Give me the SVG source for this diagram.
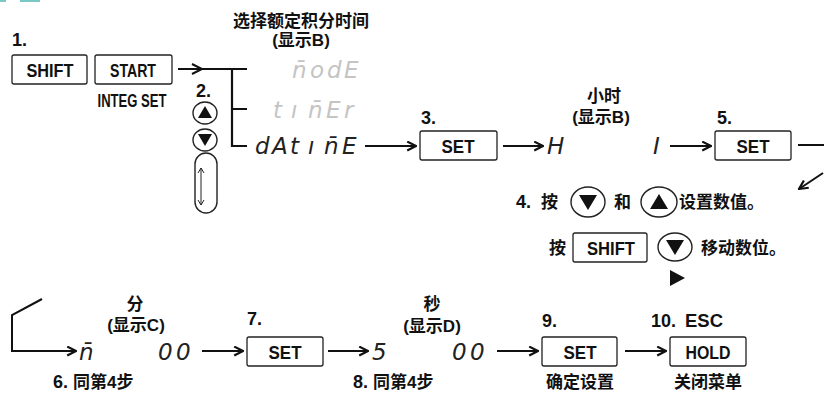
<svg xmlns="http://www.w3.org/2000/svg" width="824" height="394" viewBox="0 0 824 394">
<defs>
<style>
.bg{fill:#fff}
.key{fill:#fff;stroke:#222;stroke-width:1.3}
.kt{font-family:"Liberation Sans",Arial,sans-serif;font-weight:bold;font-size:19px;fill:#111;text-anchor:middle}
.num{font-family:"Liberation Sans",Arial,sans-serif;font-weight:bold;font-size:18px;fill:#111}
.cn{font-family:"Liberation Sans","Noto Sans CJK SC",sans-serif;font-weight:bold;font-size:17px;fill:#111}
.mid{text-anchor:middle}
.seg{font-family:"DejaVu Sans",sans-serif;font-weight:200;font-style:oblique;font-size:23px;fill:#222}
.ghost{fill:#c4c4c4}
.ln{fill:none;stroke:#111;stroke-width:2}
.br{fill:none;stroke:#111;stroke-width:2.2}
.btn{fill:#fff;stroke:#222;stroke-width:1.4}
.tri{fill:#111}
</style>
<marker id="ah" viewBox="0 0 10 10" refX="9" refY="5" markerWidth="11" markerHeight="11" markerUnits="userSpaceOnUse" orient="auto">
<path d="M1,1 L9,5 L1,9" fill="none" stroke="#111" stroke-width="2"/>
</marker>
</defs>
<rect class="bg" x="0" y="0" width="824" height="394"/>
<path d="M0,1 L6,1 M20,1 L40,1" stroke="#7cc8c4" stroke-width="2" fill="none"/>

<g id="title">
<text class="cn mid" x="301" y="27" font-size="18">选择额定积分时间</text>
<text class="cn mid" x="301" y="46">(显示B)</text>
</g>

<g id="step1">
<text class="num" x="12" y="46">1.</text>
<rect class="key" x="12" y="55" width="75" height="29" rx="2"/>
<text class="kt" x="50" y="77" textLength="47" lengthAdjust="spacingAndGlyphs">SHIFT</text>
<rect class="key" x="95" y="55" width="77" height="29" rx="2"/>
<text class="kt" x="133" y="77" textLength="46" lengthAdjust="spacingAndGlyphs">START</text>
<text class="kt" x="132" y="107" font-size="15" textLength="69" lengthAdjust="spacingAndGlyphs">INTEG SET</text>
</g>

<g id="step2">
<text class="num" x="196" y="97">2.</text>
<ellipse class="btn" cx="205" cy="113" rx="12" ry="11"/>
<path class="tri" d="M205,106 L212,118 L198,118 z"/>
<ellipse class="btn" cx="205" cy="140" rx="12" ry="11"/>
<path class="tri" d="M198,134 L212,134 L205,146 z"/>
<rect class="btn" x="195" y="153" width="22" height="60" rx="11"/>
<path d="M201,168 L201,205 M198,173 L201,168 L204,173 M198,200 L201,205 L204,200" fill="none" stroke="#222" stroke-width="1"/>
</g>

<g id="menu">
<text class="seg ghost" y="78" font-size="22"><tspan x="292">n̄</tspan><tspan x="310">o</tspan><tspan x="327">d</tspan><tspan x="344">E</tspan></text>
<text class="seg ghost" y="118" font-size="22"><tspan x="273">t</tspan><tspan x="291">ı</tspan><tspan x="308">n̄</tspan><tspan x="326">E</tspan><tspan x="344">r</tspan></text>
<text class="seg" y="154"><tspan x="255">d</tspan><tspan x="272">A</tspan><tspan x="290">t</tspan><tspan x="308">ı</tspan><tspan x="324">n̄</tspan><tspan x="342">E</tspan></text>
</g>

<g id="step3">
<text class="num" x="421" y="124">3.</text>
<rect class="key" x="420" y="131" width="77" height="29" rx="2"/>
<text class="kt" x="458" y="153" textLength="33" lengthAdjust="spacingAndGlyphs">SET</text>
</g>

<g id="hour">
<text class="cn mid" x="604" y="102">小时</text>
<text class="cn mid" x="601" y="123">(显示B)</text>
<text class="seg" x="547" y="154">H</text>
<text class="seg" x="653" y="154">I</text>
</g>

<g id="step5">
<text class="num" x="717" y="124">5.</text>
<rect class="key" x="715" y="131" width="76" height="29" rx="2"/>
<text class="kt" x="753" y="153" textLength="33" lengthAdjust="spacingAndGlyphs">SET</text>
</g>

<g id="step4">
<text class="num" x="516" y="208">4.</text>
<text class="cn" x="541" y="208">按</text>
<ellipse class="btn" cx="588" cy="202" rx="17" ry="15"/>
<path class="tri" d="M579,195 L597,195 L588,210 z"/>
<text class="cn" x="614" y="208">和</text>
<ellipse class="btn" cx="659" cy="202" rx="18" ry="15"/>
<path class="tri" d="M659,194 L668,209 L650,209 z"/>
<text class="cn" x="679" y="208">设置数值。</text>
<text class="cn" x="549" y="254">按</text>
<rect class="key" x="573" y="233" width="74" height="29" rx="2"/>
<text class="kt" x="611" y="255" textLength="48" lengthAdjust="spacingAndGlyphs">SHIFT</text>
<ellipse class="btn" cx="675" cy="247" rx="17" ry="14"/>
<path class="tri" d="M666,240 L684,240 L675,255 z"/>
<text class="cn" x="701" y="254">移动数位。</text>
<path class="tri" d="M670,270 L685,278 L670,286 z"/>
</g>

<g id="minute">
<text class="cn mid" x="135" y="310">分</text>
<text class="cn mid" x="136" y="331">(显示C)</text>
<text class="seg" x="79" y="360">n̄</text>
<text class="seg" y="360" font-size="25"><tspan x="158">0</tspan><tspan x="176">0</tspan></text>
<text class="num" x="53" y="388">6.</text>
<text class="cn" x="73" y="388">同第4步</text>
</g>

<g id="step7">
<text class="num" x="247" y="325">7.</text>
<rect class="key" x="247" y="337" width="76" height="29" rx="2"/>
<text class="kt" x="285" y="359" textLength="33" lengthAdjust="spacingAndGlyphs">SET</text>
</g>

<g id="second">
<text class="cn mid" x="432" y="310">秒</text>
<text class="cn mid" x="432" y="332">(显示D)</text>
<text class="seg" x="372" y="360" font-size="25">5</text>
<text class="seg" y="360" font-size="25"><tspan x="452">0</tspan><tspan x="470">0</tspan></text>
<text class="num" x="353" y="388">8.</text>
<text class="cn" x="373" y="388">同第4步</text>
</g>

<g id="step9">
<text class="num" x="542" y="327">9.</text>
<rect class="key" x="542" y="337" width="75" height="29" rx="2"/>
<text class="kt" x="580" y="359" textLength="33" lengthAdjust="spacingAndGlyphs">SET</text>
<text class="cn mid" x="580" y="388">确定设置</text>
</g>

<g id="step10">
<text class="num" x="651" y="327">10.</text>
<text class="num" x="685" y="327" textLength="38" lengthAdjust="spacingAndGlyphs">ESC</text>
<rect class="key" x="670" y="337" width="76" height="29" rx="2"/>
<text class="kt" x="708" y="359" textLength="45" lengthAdjust="spacingAndGlyphs">HOLD</text>
<text class="cn mid" x="708" y="388">关闭菜单</text>
</g>

<g id="connectors">
<path class="br" d="M178,69 L247,69 M232,69 L232,146 L247,146 M232,109 L247,109"/>
<path d="M192,64 L202,69 L192,74" fill="none" stroke="#111" stroke-width="2"/>
<line class="ln" x1="365" y1="146" x2="416" y2="146" marker-end="url(#ah)"/>
<line class="ln" x1="503" y1="146" x2="543" y2="146" marker-end="url(#ah)"/>
<line class="ln" x1="670" y1="146" x2="711" y2="146" marker-end="url(#ah)"/>
<line class="ln" x1="798" y1="145" x2="824" y2="145"/>
<line class="ln" x1="823" y1="173" x2="799" y2="189" marker-end="url(#ah)"/>
<path class="ln" d="M42,299 L12,315 L12,351 L76,351" marker-end="url(#ah)"/>
<line class="ln" x1="202" y1="351" x2="243" y2="351" marker-end="url(#ah)"/>
<line class="ln" x1="328" y1="351" x2="368" y2="351" marker-end="url(#ah)"/>
<line class="ln" x1="497" y1="351" x2="538" y2="351" marker-end="url(#ah)"/>
<line class="ln" x1="625" y1="351" x2="666" y2="351" marker-end="url(#ah)"/>
</g>
</svg>
